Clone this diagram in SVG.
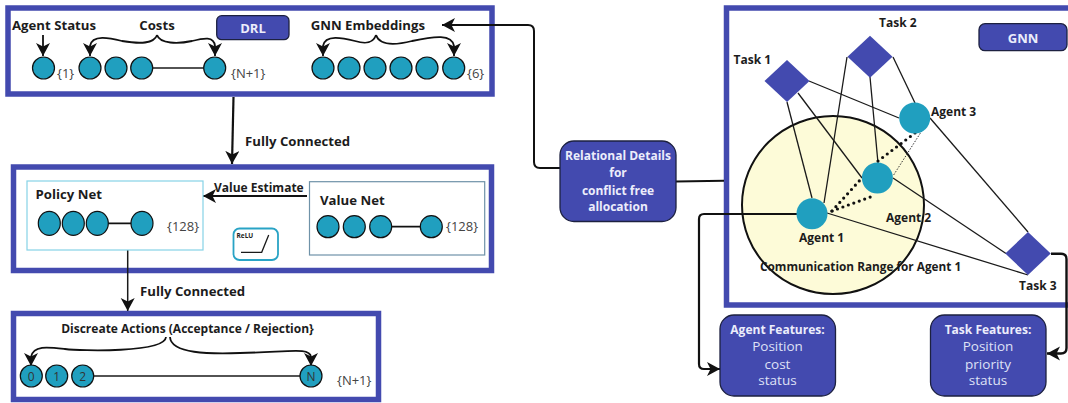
<svg xmlns="http://www.w3.org/2000/svg" width="1068" height="403" viewBox="0 0 1068 403">
<defs>
<marker id="ah" markerUnits="userSpaceOnUse" markerWidth="16" markerHeight="16" refX="13" refY="7" orient="auto"><path d="M0,0 L13,7 L0,14 L3.500,7 Z" fill="#111"/></marker>
</defs>
<style>
text{font-family:"Open Sans","Noto Sans",sans-serif;fill:#1c1c1c}
.b{font-weight:700;font-size:13.2px}
.s{font-size:12px}
.g{font-size:13px;fill:#444}
.w{font-size:13.5px;fill:#dfe1f6;text-anchor:middle}
.wb{font-weight:700;font-size:12px;fill:#ecedfb}
.m{text-anchor:middle}
.d{font-size:12px;fill:#333;text-anchor:middle}
.frame{fill:#fff;stroke:#434aaf;stroke-width:5.5}
.btn{fill:#434aaf;stroke:#1d2140;stroke-width:1.300}
.n{fill:#209fbf;stroke:#111;stroke-width:1.200}
.a{fill:#209fbf}
.t{fill:#434aaf}
.l{fill:none;stroke:#1a1a1a;stroke-width:1.300}
.c{fill:none;stroke:#111;stroke-width:1.800}
.arr{marker-end:url(#ah)}
.dot{fill:none;stroke:#111;stroke-width:3.200;stroke-linecap:round;stroke-dasharray:0 5.800}
</style>
<rect width="1068" height="403" fill="#fff"/>
<g id="drl-frame"><rect class="frame" x="8" y="8" width="484" height="86"/></g>
<g id="mid-frame"><rect class="frame" x="13.500" y="167" width="478" height="103.500"/></g>
<g id="out-frame"><rect class="frame" x="13.500" y="313.500" width="365" height="86"/></g>
<g id="gnn-frame"><rect class="frame" x="726.500" y="8" width="345" height="297"/></g>
<g id="comm-range"><ellipse cx="833" cy="205" rx="91" ry="89" fill="#fdfbd8" stroke="#111" stroke-width="2"/></g>
<g id="connectors">
<path class="c arr" d="M43,35 V56"/>
<path class="c arr" d="M157,35 C154,44 140,44 122,41 C110,38 92,34 90,46 V56"/>
<path class="c arr" d="M157,35 C160,44 178,44 192,41 C204,38 214,36 215,46 V56"/>
<path class="c arr" d="M376,35 C373,44 365,44 355,41 C343,38 325,34 323,46 V56"/>
<path class="c arr" d="M376,35 C379,44 392,46 412,41 C435,36 452,34 454,46 V56"/>
<path class="c arr" style="stroke-width:2" d="M560,168 H540 Q534,168 534,162 V31 Q534,25 528,25 H442"/>
<path class="c" style="stroke-width:2" d="M676,181.500 L724,180.700"/>
<path class="c arr" style="stroke-width:2.200" d="M233.500,97 L232,164"/>
<path class="c arr" d="M307,196 H203"/>
<path class="l arr" style="stroke-width:1.500" d="M127.700,250 V311"/>
<path class="c arr" d="M166,337 C165,353 80,351 65,349 C48,347 33,345 31,357 V366"/>
<path class="c arr" d="M170,337 C171,354 210,354 240,353 C290,352 310,347 311,357 V366"/>
<path class="c arr" style="stroke-width:2.200" d="M797,214 H704 Q699,214 699,219 V364 Q699,369 704,369 H720"/>
<path class="c arr" style="stroke-width:2.400" d="M1051,253.700 H1061 Q1066.500,253.700 1066.500,259 V348 Q1066.500,353.500 1061,353.500 H1047"/>
<g>
<path class="l" d="M787,102 L812,198"/>
<path class="l" d="M798,93 L862,178"/>
<path class="l" d="M809,81 L899,118"/>
<path class="l" d="M847,57 L824,203"/>
<path class="l" d="M870,77 L878,163"/>
<path class="l" d="M893,57 L915,103"/>
<path class="l" d="M930,118 L1028,232"/>
<path class="l" d="M893,178 L1006,253.500"/>
<path class="l" d="M827,213 L1028,275"/>
<path fill="none" stroke="#333" stroke-width="1" stroke-dasharray="1.500 1.500" d="M930,118 L893,176"/>
<path class="dot" d="M832,211 L861,179"/>
<path class="dot" d="M832,211 L873,196"/>
<path class="dot" d="M878,161 L915,133"/>
</g>
</g>
<g id="drl-badge"><rect class="btn" x="216.700" y="15.700" width="72.300" height="24" rx="5"/><text class="w wb" style="font-size:13px" x="253" y="33">DRL</text></g>
<g id="gnn-badge"><rect class="btn" x="979" y="23.700" width="88" height="27" rx="6"/><text class="w wb" style="font-size:13px" x="1023" y="43">GNN</text></g>
<g id="status"><text class="b" x="12" y="29.500">Agent Status</text><circle class="n" cx="43.500" cy="68" r="11"/><text class="g" x="57" y="78">{1}</text></g>
<g id="costs"><text class="b m" x="157" y="29.500">Costs</text>
<path class="l" d="M141,68 H215"/>
<circle class="n" cx="90" cy="68" r="11"/><circle class="n" cx="116" cy="68" r="11"/><circle class="n" cx="141.700" cy="68" r="11"/><circle class="n" cx="214.700" cy="68" r="11"/><text class="g" x="231" y="78">{N+1}</text></g>
<g id="embeddings"><text class="b" x="310.700" y="29.500">GNN Embeddings</text>
<circle class="n" cx="323" cy="68" r="11"/><circle class="n" cx="349" cy="68" r="11"/><circle class="n" cx="375" cy="68" r="11"/><circle class="n" cx="401" cy="68" r="11"/><circle class="n" cx="427" cy="68" r="11"/><circle class="n" cx="453.700" cy="68" r="11"/><text class="g" x="467" y="78">{6}</text></g>
<g id="fc1"><text class="b" x="245" y="146">Fully Connected</text></g>
<g id="policy"><rect x="27" y="181" width="176" height="69" fill="#fff" stroke="#86d3e6" stroke-width="1.200"/><text class="b" x="35.500" y="199">Policy Net</text>
<path class="c" d="M97,223.300 H142"/>
<ellipse class="n" cx="49.300" cy="223.300" rx="11" ry="12"/><ellipse class="n" cx="73.300" cy="223.300" rx="11" ry="12"/><ellipse class="n" cx="97.300" cy="223.300" rx="11" ry="12"/><ellipse class="n" cx="142" cy="223.300" rx="11" ry="12"/><text class="g" x="167" y="231">{128}</text></g>
<g id="value"><rect x="309.500" y="181.700" width="175.200" height="73.300" fill="#fff" stroke="#6f92a8" stroke-width="1.200"/><text class="b" x="320" y="205">Value Net</text>
<path class="c" d="M381,226.700 H431"/>
<circle class="n" cx="328" cy="226.700" r="11"/><circle class="n" cx="354.300" cy="226.700" r="11"/><circle class="n" cx="380.700" cy="226.700" r="11"/><circle class="n" cx="431.300" cy="226.700" r="11"/><text class="g" x="446" y="231">{128}</text></g>
<g id="value-estimate"><text class="b s" x="214" y="192">Value Estimate</text></g>
<g id="relu"><rect x="233.500" y="228.500" width="44.500" height="31.500" rx="6" fill="#fff" stroke="#29a3c5" stroke-width="1.800"/><text x="236.500" y="238" style="font-size:6.500px;font-weight:700">ReLU</text><path class="l" d="M241,252.300 H261.700 L268.700,235"/></g>
<g id="fc2"><text class="b" x="140" y="296">Fully Connected</text></g>
<g id="actions"><text class="b m s" x="187.500" y="332.500">Discreate Actions (Acceptance / Rejection}</text>
<path class="l" style="stroke-width:1.500" d="M83,376 H311"/>
<circle class="n" cx="31.300" cy="376" r="11"/><circle class="n" cx="56.700" cy="376" r="11"/><circle class="n" cx="82.700" cy="376" r="11"/><circle class="n" cx="311" cy="376" r="11"/>
<text class="d" x="31.300" y="380.500">0</text><text class="d" x="56.700" y="380.500">1</text><text class="d" x="82.700" y="380.500">2</text><text class="d" x="311" y="380.500">N</text>
<text class="g" x="337" y="385">{N+1}</text></g>
<g id="relational"><rect class="btn" x="560" y="141" width="116" height="80.500" rx="14"/>
<text class="w wb" x="618" y="160">Relational Details</text><text class="w wb" x="618" y="177">for</text><text class="w wb" x="618" y="194.500">conflict free</text><text class="w wb" x="618" y="211">allocation</text></g>
<g id="task1"><path class="t" d="M787,60 L809.500,81 L787,102 L764.500,81 Z"/><text class="b s" x="733.500" y="64">Task 1</text></g>
<g id="task2"><path class="t" d="M870,35.700 L892.500,56.700 L870,77.700 L847.500,56.700 Z"/><text class="b s" x="879" y="27">Task 2</text></g>
<g id="task3"><path class="t" d="M1028,232 L1050.700,253.500 L1028,275 L1005.300,253.500 Z"/><text class="b s" x="1019" y="290">Task 3</text></g>
<g id="agent1"><circle class="a" cx="812" cy="213.800" r="15.500"/><text class="b s" x="799" y="242">Agent 1</text></g>
<g id="agent2"><circle class="a" cx="877.400" cy="178" r="15.500"/><text class="b s" x="886" y="221.500">Agent 2</text></g>
<g id="agent3"><circle class="a" cx="914.700" cy="118" r="15.500"/><text class="b s" x="931" y="115.500">Agent 3</text></g>
<g id="range-label"><text class="b" style="font-size:11.800px" x="760" y="270.500">Communication Range for Agent 1</text></g>
<g id="agent-features"><rect class="btn" x="720" y="315" width="115.500" height="81" rx="14"/>
<text class="w wb" x="777.500" y="334">Agent Features:</text><text class="w" x="777.500" y="351">Position</text><text class="w" x="777.500" y="368.500">cost</text><text class="w" x="777.500" y="385">status</text></g>
<g id="task-features"><rect class="btn" x="930.500" y="315" width="115.500" height="81" rx="14"/>
<text class="w wb" x="988" y="334">Task Features:</text><text class="w" x="988" y="351">Position</text><text class="w" x="988" y="368.500">priority</text><text class="w" x="988" y="385">status</text></g>
</svg>
